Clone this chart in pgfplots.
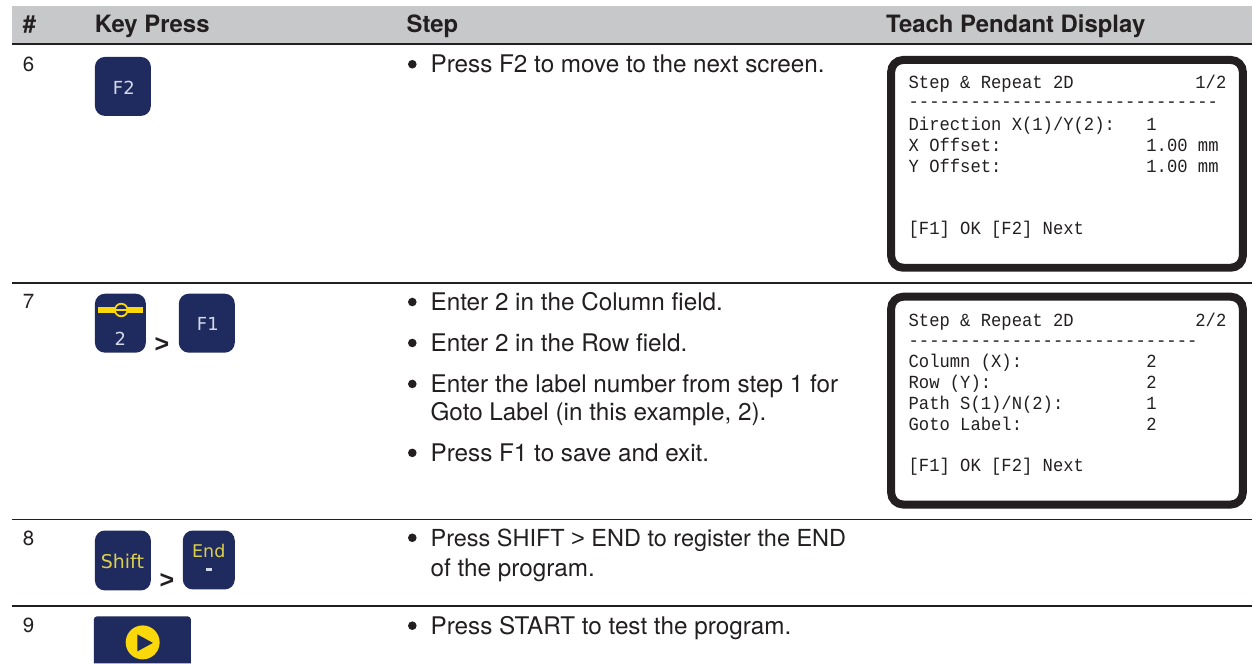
\documentclass[border=0pt]{standalone}
\usepackage{pgfplots}
\pgfplotsset{compat=1.18}
\usepackage{fontspec}
\setmainfont{TeX Gyre Heros}
\newfontfamily\dispfont[FakeStretch=0.93]{Liberation Mono}
\newfontfamily\keyfont{DejaVu Sans}
\newfontfamily\arrowfont{Liberation Sans}
\definecolor{ink}{HTML}{231F20}
\definecolor{band}{HTML}{C7C8CA}
\definecolor{navy}{HTML}{1F2A5E}
\definecolor{keytxt}{HTML}{D5DAEA}
\definecolor{keyyel}{HTML}{DCD04A}
\definecolor{gold}{HTML}{FBD80A}
\newcommand{\body}{\fontsize{24.3}{26}\selectfont}
\newcommand{\num}{\fontsize{20.5}{24}\selectfont}
\newcommand{\head}{\fontsize{23.9}{26}\selectfont\bfseries}
\newcommand{\mono}{\dispfont\fontsize{18.5}{20}\selectfont}
\begin{document}
\begin{tikzpicture}[every node/.style={inner sep=0pt, outer sep=0pt, text=ink}]
\begin{axis}[
  scale only axis, width=1253pt, height=664pt,
  xmin=0, xmax=1253, ymin=0, ymax=664, y dir=reverse,
  hide axis, clip=false,
]
\path (0,0) rectangle (1253,664);
% header band
\fill[band] (12,6) rectangle (1253,43);
% rules
\addplot[ink, line width=2.4pt, forget plot] coordinates {(12,44.3) (1253,44.3)};
\addplot[ink, line width=1.8pt, forget plot] coordinates {(12,283.3) (1253,283.3)};
\addplot[ink, line width=1.8pt, forget plot] coordinates {(12,520) (1253,520)};
\addplot[ink, line width=1.8pt, forget plot] coordinates {(12,606.5) (1253,606.5)};
% header text
\node[anchor=base west] at (23,33) {\head \#};
\node[anchor=base west] at (95,33) {\head Key Press};
\node[anchor=base west] at (407,33) {\head Step};
\node[anchor=base west] at (887,33) {\head Teach Pendant Display};
% numbers
\node[anchor=base west] at (23,72) {\num 6};
\node[anchor=base west] at (23,309) {\num 7};
\node[anchor=base west] at (23,546) {\num 8};
\node[anchor=base west] at (23,633) {\num 9};
% step text
\foreach \yy/\tt in {73/Press F2 to move to the next screen.,
  311/Enter 2 in the Column field.,
  352/Enter 2 in the Row field.,
  393/Enter the label number from step 1 for,
  462/Press F1 to save and exit.,
  635/Press START to test the program.} {
  \edef\tmp{\noexpand\node[anchor=base west] at (431,\yy) {\noexpand\body \unexpanded\expandafter{\tt}};}
  \tmp
  \edef\tmp{\noexpand\fill[ink] (412.7,\yy-8.7) circle (4.3pt);}
  \tmp
}
\fill[ink] (412.7,538.3) circle (4.3pt);
\node[anchor=base west] at (431,547) {\fontsize{23.5}{26}\selectfont Press SHIFT {\arrowfont >} END to register the END};
\node[anchor=base west] at (431,421) {\body Goto Label (in this example, 2).};
\node[anchor=base west] at (431,577) {\body of the program.};
% keys
\fill[navy, rounded corners=10pt] (95,57) rectangle (151,116);
\node[text=keytxt] at (124,88) {\keyfont\fontsize{18}{20}\selectfont F2};

\fill[navy, rounded corners=10pt] (95,294) rectangle (146,353);
\fill[gold] (98,307.5) rectangle (143,313);
\filldraw[fill=navy, draw=gold, line width=1.8pt] (121.3,310.3) circle (6.3pt);
\fill[gold] (115,309.6) rectangle (127.5,311);
\node[text=keytxt] at (120.5,339) {\keyfont\fontsize{18}{20}\selectfont 2};
\node at (162,345) {\arrowfont\bfseries\fontsize{25}{26}\selectfont >};
\fill[navy, rounded corners=10pt] (179,294) rectangle (235,353);
\node[text=keytxt] at (208,324) {\keyfont\fontsize{18}{20}\selectfont F1};

\fill[navy, rounded corners=10pt] (95,531) rectangle (151,591);
\node[text=keyyel] at (122.5,562) {\keyfont\fontsize{19}{20}\selectfont Shift};
\node at (167,582) {\arrowfont\bfseries\fontsize{25}{26}\selectfont >};
\fill[navy, rounded corners=10pt] (183,531) rectangle (235,590);
\node[text=keyyel] at (209,551) {\keyfont\fontsize{17.5}{18}\selectfont End};
\fill[keytxt] (206,569) rectangle (212,571.5);

\fill[navy] (94,664) [rounded corners=3pt] -- (94,617) -- (191,617) [sharp corners] -- (191,664) -- cycle;
\fill[gold] (142.8,643) circle (17pt);
\fill[navy] (137.5,635) -- (153,643.5) -- (137.5,652) -- cycle;
% display 1
\draw[ink, line width=8pt, rounded corners=12pt] (892,60) rectangle (1244,268);
\node[anchor=base west] at (909.5,89) {\mono Step \& Repeat 2D};
\node[anchor=base west] at (1196.5,89) {\mono 1/2};
\node[anchor=base west] at (909.5,108) {\mono ------------------------------};
\node[anchor=base west] at (909.5,131) {\mono Direction X(1)/Y(2):};
\node[anchor=base west] at (1147.5,131) {\mono 1};
\node[anchor=base west] at (909.5,152) {\mono X Offset:};
\node[anchor=base west] at (1147.5,152) {\mono 1.00 mm};
\node[anchor=base west] at (909.5,173) {\mono Y Offset:};
\node[anchor=base west] at (1147.5,173) {\mono 1.00 mm};
\node[anchor=base west] at (909.5,235) {\mono [F1] OK [F2] Next};
% display 2
\draw[ink, line width=8pt, rounded corners=12pt] (892,297) rectangle (1244,505);
\node[anchor=base west] at (909.5,327) {\mono Step \& Repeat 2D};
\node[anchor=base west] at (1196.5,327) {\mono 2/2};
\node[anchor=base west] at (909.5,347) {\mono ----------------------------};
\node[anchor=base west] at (909.5,368) {\mono Column (X):};
\node[anchor=base west] at (1147.5,368) {\mono 2};
\node[anchor=base west] at (909.5,389) {\mono Row (Y):};
\node[anchor=base west] at (1147.5,389) {\mono 2};
\node[anchor=base west] at (909.5,410) {\mono Path S(1)/N(2):};
\node[anchor=base west] at (1147.5,410) {\mono 1};
\node[anchor=base west] at (909.5,431) {\mono Goto Label:};
\node[anchor=base west] at (1147.5,431) {\mono 2};
\node[anchor=base west] at (909.5,472) {\mono [F1] OK [F2] Next};
\end{axis}
\end{tikzpicture}
\end{document}
